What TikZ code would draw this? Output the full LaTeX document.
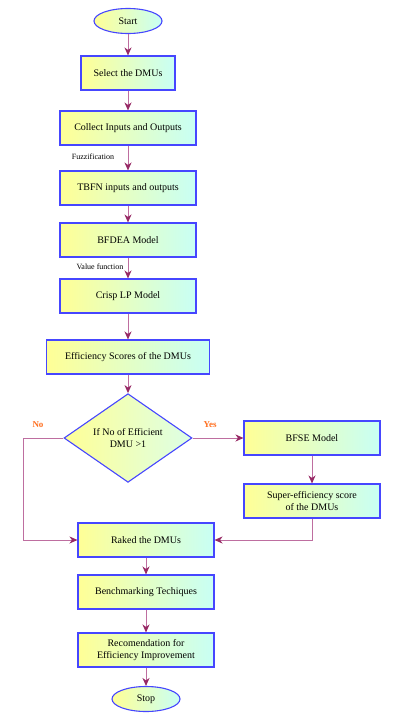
\documentclass[tikz,border=0pt]{standalone}
\usepackage{fontspec}
\setmainfont{Liberation Serif}
\usetikzlibrary{shapes.geometric,arrows.meta}
\definecolor{bordc}{RGB}{70,70,255}
\definecolor{linec}{RGB}{190,110,160}
\definecolor{headc}{RGB}{150,40,100}
\definecolor{lyel}{RGB}{255,255,150}
\definecolor{lcyan}{RGB}{200,255,245}
\definecolor{orng}{RGB}{255,110,30}
\begin{document}
\begin{tikzpicture}[x=1pt,y=-1pt,
  box/.style={rectangle, draw=bordc, line width=1.1pt, left color=lyel, right color=lcyan,
    font=\fontsize{10}{12}\selectfont, align=center, inner sep=0pt, minimum height=34pt},
  term/.style={ellipse, draw=bordc, line width=1.1pt, left color=lyel, right color=lcyan,
    minimum width=68pt, minimum height=25pt, inner sep=0pt, font=\fontsize{10}{12}\selectfont},
  decision/.style={diamond, draw=bordc, line width=1.1pt, left color=lyel, right color=lcyan!70!green!30!white,
    minimum width=128pt, minimum height=70pt, inner sep=0pt, align=center, font=\fontsize{10}{12}\selectfont},
  conn/.style={draw=linec, line width=0.9pt, -{Stealth[length=8pt,width=7pt,inset=2.5pt,color=headc]}},
  lbl/.style={font=\fontsize{8}{9}\selectfont},
  yn/.style={font=\bfseries\fontsize{9}{10}\selectfont, text=orng}
]
\useasboundingbox (0,0) rectangle (400,720);

\node[term] (start) at (128,21) {Start};
\node[box, minimum width=94pt] (select) at (128,73) {Select the DMUs};
\node[box, minimum width=136pt] (collect) at (128,128) {Collect Inputs and Outputs};
\node[box, minimum width=136pt] (tbfn) at (128,188) {TBFN inputs and outputs};
\node[box, minimum width=136pt] (bfdea) at (128,240) {BFDEA Model};
\node[box, minimum width=136pt] (crisp) at (128,296) {Crisp LP Model};
\node[box, minimum width=163pt] (effs) at (128,357) {Efficiency Scores of the DMUs};
\node[decision] (dec) at (128,438) {If No of Efficient\\DMU >1};
\node[box, minimum width=136pt] (bfse) at (312,438) {BFSE Model};
\node[box, minimum width=136pt, font=\fontsize{10}{11.5}\selectfont] (super) at (312,501) {Super-efficiency score\\of the DMUs};
\node[box, minimum width=136pt] (raked) at (146,540) {Raked the DMUs};
\node[box, minimum width=136pt] (bench) at (146,592) {Benchmarking Techiques};
\node[box, minimum width=136pt, font=\fontsize{10}{11.5}\selectfont] (recom) at (146,650) {Recomendation for\\Efficiency Improvement};
\node[term] (stop) at (146,699) {Stop};

\node[lbl] (fuzz) at (93,157) {Fuzzification};
\node[lbl] (valf) at (100,267) {Value function};
\node[yn] (no) at (38,425) {No};
\node[yn] (yes) at (210,425) {Yes};

\coordinate (nocorner) at (23,438);

\draw[conn] (start) -- (select);
\draw[conn] (select) -- (collect);
\draw[conn] (collect) -- (tbfn);
\draw[conn] (tbfn) -- (bfdea);
\draw[conn] (bfdea) -- (crisp);
\draw[conn] (crisp) -- (effs);
\draw[conn] (effs) -- (dec);
\draw[conn] (dec.east) -- (bfse.west);
\draw[conn] (bfse) -- (super);
\draw[conn] (dec.west) -- (nocorner) |- (raked.west);
\draw[conn] (super.south) |- (raked.east);
\draw[conn] (raked) -- (bench);
\draw[conn] (bench) -- (recom);
\draw[conn] (recom) -- (stop);
\end{tikzpicture}
\end{document}
